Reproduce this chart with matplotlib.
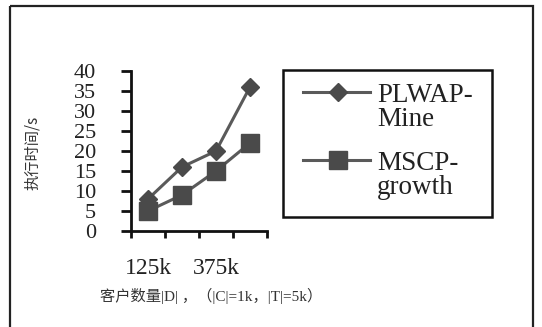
import matplotlib.pyplot as plt
from matplotlib.patches import Rectangle
from matplotlib.lines import Line2D

# Customer counts (only every other label is printed on the axis)
categories = ['125k', '250k', '375k', '500k']
plwap_mine = [8, 16, 20, 36]
mscp_growth = [5, 9, 15, 22]

SERIF = 'Liberation Serif'
CJK = 'Noto Sans CJK SC'
line_col = '#5a5a5a'
mark_col = '#4a4a4a'
text_col = '#222222'

W, H = 542, 327
fig = plt.figure(figsize=(W / 100, H / 100), dpi=100)

# pixel-space overlay for the outer frame, legend and labels
bg = fig.add_axes([0, 0, 1, 1], zorder=0)
bg.set_xlim(0, W)
bg.set_ylim(H, 0)
bg.axis('off')
bg.add_patch(Rectangle((10, 6), 523, 340, fill=False, ec='#222222', lw=1.6,
                       clip_on=False))

ax = fig.add_axes([131 / W, 1 - 231 / H, (267 - 131) / W, (231 - 71) / H], zorder=1)
ax.patch.set_alpha(0)
x = list(range(len(categories)))
ax.plot(x, plwap_mine, color=line_col, lw=2.2, marker='D', ms=9.5,
        mfc=mark_col, mec=mark_col, clip_on=False)
ax.plot(x, mscp_growth, color=line_col, lw=2.2, marker='s', ms=13,
        mfc=mark_col, mec=mark_col, clip_on=False)

ax.set_xlim(-0.5, len(categories) - 0.5)
ax.set_ylim(0, 40)
ax.set_yticks(range(0, 41, 5))
ax.set_xticks([i - 0.5 for i in range(len(categories) + 1)])
ax.set_xticklabels([])
ax.tick_params(axis='y', direction='out', length=7.2, width=2, pad=18,
               labelsize=16, color='#111111', labelcolor=text_col)
ax.tick_params(axis='x', direction='out', length=5, width=2, color='#111111')
for lab in ax.get_yticklabels():
    lab.set_family(SERIF)
for side in ('top', 'right'):
    ax.spines[side].set_visible(False)
for side in ('left', 'bottom'):
    ax.spines[side].set_linewidth(2)
    ax.spines[side].set_color('#111111')

# every other category label, well below the axis
for i in range(0, len(categories), 2):
    ax.annotate(categories[i], (i, 0), xytext=(0, -27), textcoords='offset points',
                ha='center', va='center', fontsize=17, family=SERIF, color=text_col)

bg.text(32, 153, '执行时间/s', rotation=90, ha='center', va='center',
        fontsize=11, family=[CJK, SERIF], color='#333333')
bg.text(100, 296, '客户数量|D| ，（|C|=1k，|T|=5k）', ha='left', va='center',
        fontsize=11, family=[SERIF, CJK], color='#333333')

# legend box
bg.add_patch(Rectangle((283, 70), 209, 147, fill=False, ec='#111111', lw=1.8))
entries = [('D', 9.5, ['PLWAP-', 'Mine'], 92, 102),
           ('s', 13, ['MSCP-', 'growth'], 160, 170)]
for mk, ms, lines, yy, base in entries:
    bg.add_line(Line2D([303, 337.5, 370], [yy, yy, yy], color=line_col, lw=2.2,
                       marker=mk, ms=ms, mfc=mark_col, mec=mark_col,
                       markevery=[1], zorder=3))
    for k, s in enumerate(lines):
        bg.text(377, base + 24 * k, s, ha='left', va='baseline', fontsize=19.5,
                family=SERIF, color=text_col)

fig.savefig('out.png', dpi=100)
